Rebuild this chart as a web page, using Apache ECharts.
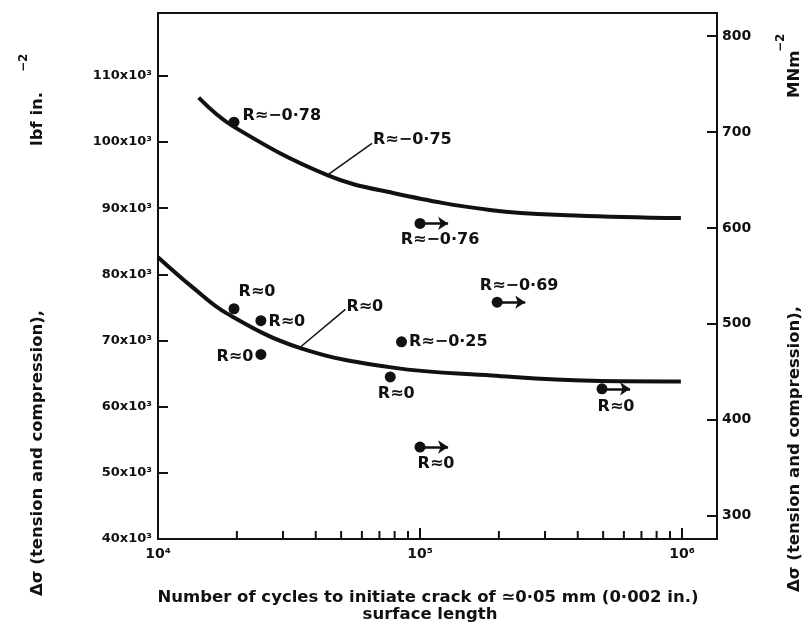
<!DOCTYPE html>
<html>
<head>
<meta charset="utf-8">
<script src="https://cdn.jsdelivr.net/npm/echarts@6/dist/echarts.min.js"></script>
<style>
html,body{margin:0;padding:0;background:#fff}
#main{width:810px;height:627px}
</style>
</head>
<body>
<div id="main"></div>
<script>
// stress range vs cycles to initiate a 0.05 mm crack
var PSI_PER_MPA = 145.04;

var xMin = 1e4, xMax = 1.36e6;
var yMin = 40000, yMax = 119500;
var xMinorTicks = [2e4,3e4,4e4,5e4,6e4,7e4,8e4,9e4,2e5,3e5,4e5,5e5,6e5,7e5,8e5,9e5];
var rightTicks = [300,400,500,600,700,800];

// fitted curves (lbf/in^2)
var upperX = [14.3e3, 19.3e3, 44.3e3, 78.9e3, 188e3, 392e3, 990e3];
var upperY = [106.7e3, 102.4e3, 95.0e3, 92.3e3, 89.7e3, 88.9e3, 88.5e3];
var lowerX = [10.0e3, 13.6e3, 18.3e3, 34.7e3, 78.9e3, 188e3, 451e3, 990e3];
var lowerY = [82.6e3, 78.0e3, 74.1e3, 68.9e3, 65.9e3, 64.7e3, 63.9e3, 63.8e3];

// test points
var ptX = [19.5e3, 1.0e5, 19.5e3, 24.7e3, 24.7e3, 85e3, 77e3, 1.97e5, 4.95e5, 1.0e5];
var ptY = [103.0e3, 87.7e3, 74.8e3, 73.0e3, 67.9e3, 69.8e3, 64.5e3, 75.8e3, 62.7e3, 53.9e3];
var ptR = ['-0·78', '-0·76', '0', '0', '0', '-0·25', '0', '-0·69', '0', '0'];
var ptRunout = [false, true, false, false, false, false, false, true, true, true];

// curve annotations: leader start on curve, leader end at label
var noteText = ['-0·75', '0'];
var noteFrom = [[44.3e3, 95.0e3], [34.7e3, 68.9e3]];
var noteTo = [[65.6e3, 99.8e3], [51.9e3, 74.7e3]];

// label placement for each test point (layout only)
var ptLabelPos = [
  {position:'right', distance:3, offset:[0,-6]},
  {position:'bottom', distance:3, offset:[20,0]},
  {position:'top', distance:3, offset:[23,0]},
  {position:'right', distance:2, offset:[0,1]},
  {position:'left', distance:2, offset:[0,2]},
  {position:'right', distance:2, offset:[0,0]},
  {position:'bottom', distance:3, offset:[6,0]},
  {position:'top', distance:3, offset:[22,0]},
  {position:'bottom', distance:5, offset:[14,0]},
  {position:'bottom', distance:3, offset:[16,0]}
];

var FONT = 'DejaVu Sans';
var supDigits = {'4':'\u2074','5':'\u2075','6':'\u2076'};

function pairs(xs, ys) {
  var out = [];
  for (var i = 0; i < xs.length; i++) out.push([xs[i], ys[i]]);
  return out;
}

var points = [];
for (var i = 0; i < ptX.length; i++) {
  points.push({
    value: [ptX[i], ptY[i]],
    label: Object.assign({show:true, formatter:'R\u2248' + ptR[i].replace('-', '\u2212')}, ptLabelPos[i])
  });
}

var arrows = [];
for (var i = 0; i < ptX.length; i++) {
  if (ptRunout[i]) arrows.push([{coord:[ptX[i], ptY[i]]}, {coord:[ptX[i] * 1.28, ptY[i]]}]);
}

var leaders = [], notes = [];
for (var i = 0; i < noteText.length; i++) {
  leaders.push([{coord:noteFrom[i]}, {coord:noteTo[i]}]);
  notes.push({value:noteTo[i], label:{show:true, position:'right', distance:1, offset:[0,-3],
    formatter:'R\u2248' + noteText[i].replace('-', '\u2212')}});
}

var minorTicks = [];
for (var i = 0; i < xMinorTicks.length; i++) minorTicks.push([xMinorTicks[i], yMin]);

var labelStyle = {fontFamily:FONT, fontWeight:'bold', fontSize:16, color:'#111'};
var titleStyle = {fontFamily:FONT, fontWeight:'bold', fontSize:16.5, fill:'#111',
  textAlign:'left', textVerticalAlign:'middle'};
function tstyle(text, extra) {
  return Object.assign({}, titleStyle, {text:text}, extra || {});
}

var chart = echarts.init(document.getElementById('main'));
var option = {
  animation: false,
  backgroundColor: '#fff',
  grid: {left:158, right:93, top:13, bottom:88, show:true, borderColor:'#111', borderWidth:2},
  xAxis: {
    type: 'log', logBase: 10, min: xMin, max: xMax,
    axisLine: {show:true, lineStyle:{color:'#111', width:2}},
    axisTick: {show:true, inside:true, length:11, lineStyle:{color:'#111', width:2}},
    splitLine: {show:false},
    axisLabel: {
      show:true, margin:8, showMaxLabel:false, color:'#111',
      fontFamily:FONT, fontWeight:'bold', fontSize:14,
      formatter: function (v) {
        var e = String(Math.round(Math.log(v) / Math.LN10));
        return '10' + (supDigits[e] || '');
      }
    }
  },
  yAxis: [{
    type: 'value', min: yMin, max: yMax, interval: 10000,
    axisLine: {show:true, lineStyle:{color:'#111', width:2}},
    axisTick: {show:true, inside:true, length:10, lineStyle:{color:'#111', width:2}},
    splitLine: {show:false},
    axisLabel: {
      margin:6, color:'#111', fontFamily:FONT, fontWeight:'bold', fontSize:13,
      showMaxLabel:false,
      formatter: function (v) { return v >= 119000 ? '' : (v / 1000) + 'x10\u00b3'; }
    }
  }, {
    type: 'value', position: 'right',
    min: yMin / PSI_PER_MPA, max: yMax / PSI_PER_MPA,
    axisLine: {show:true, lineStyle:{color:'#111', width:2}},
    axisTick: {show:true, inside:true, length:10, customValues:rightTicks, lineStyle:{color:'#111', width:2}},
    splitLine: {show:false},
    axisLabel: {
      margin:5, color:'#111', fontFamily:FONT, fontWeight:'bold', fontSize:14,
      customValues: rightTicks
    }
  }],
  series: [{
    name: 'upper', type: 'line', smooth: 0.4, showSymbol: false,
    data: pairs(upperX, upperY),
    lineStyle: {color:'#111', width:4},
    markLine: {silent:true, symbol:'none', label:{show:false},
      lineStyle:{color:'#111', width:1.5, type:'solid'}, data: leaders}
  }, {
    name: 'lower', type: 'line', smooth: 0.4, showSymbol: false,
    data: pairs(lowerX, lowerY),
    lineStyle: {color:'#111', width:4}
  }, {
    name: 'points', type: 'scatter', symbol: 'circle', symbolSize: 11,
    itemStyle: {color:'#111', opacity:1},
    label: labelStyle,
    data: points,
    markLine: {silent:true, symbol:['none','arrow'], symbolSize:10, label:{show:false},
      itemStyle:{color:'#111'},
      lineStyle:{color:'#111', width:2.5, type:'solid', opacity:1}, data: arrows}
  }, {
    name: 'notes', type: 'scatter', symbolSize: 0,
    itemStyle: {opacity:1},
    label: labelStyle,
    data: notes
  }, {
    name: 'minor', type: 'scatter', symbol: 'rect', symbolSize: [2, 8], symbolOffset: [0, -4],
    itemStyle: {color:'#111', opacity:1}, silent: true,
    data: minorTicks
  }],
  graphic: [
    {type:'text', x:38, y:596, rotation:Math.PI/2, style:tstyle('\u0394\u03c3 (tension and compression),')},
    {type:'text', x:38, y:146, rotation:Math.PI/2, style:tstyle('lbf in.')},
    {type:'text', x:24, y:72, rotation:Math.PI/2, style:tstyle('\u22122', {fontSize:12})},
    {type:'text', x:795, y:592, rotation:Math.PI/2, style:tstyle('\u0394\u03c3 (tension and compression),')},
    {type:'text', x:795, y:98, rotation:Math.PI/2, style:tstyle('MNm')},
    {type:'text', x:781, y:52, rotation:Math.PI/2, style:tstyle('\u22122', {fontSize:12})},
    {type:'text', x:428, y:598,
      style:tstyle('Number of cycles to initiate crack of \u22430\u00b705 mm (0\u00b7002 in.)', {textAlign:'center'})},
    {type:'text', x:430, y:615, style:tstyle('surface length', {textAlign:'center'})}
  ]
};
chart.setOption(option);
</script>
</body>
</html>
